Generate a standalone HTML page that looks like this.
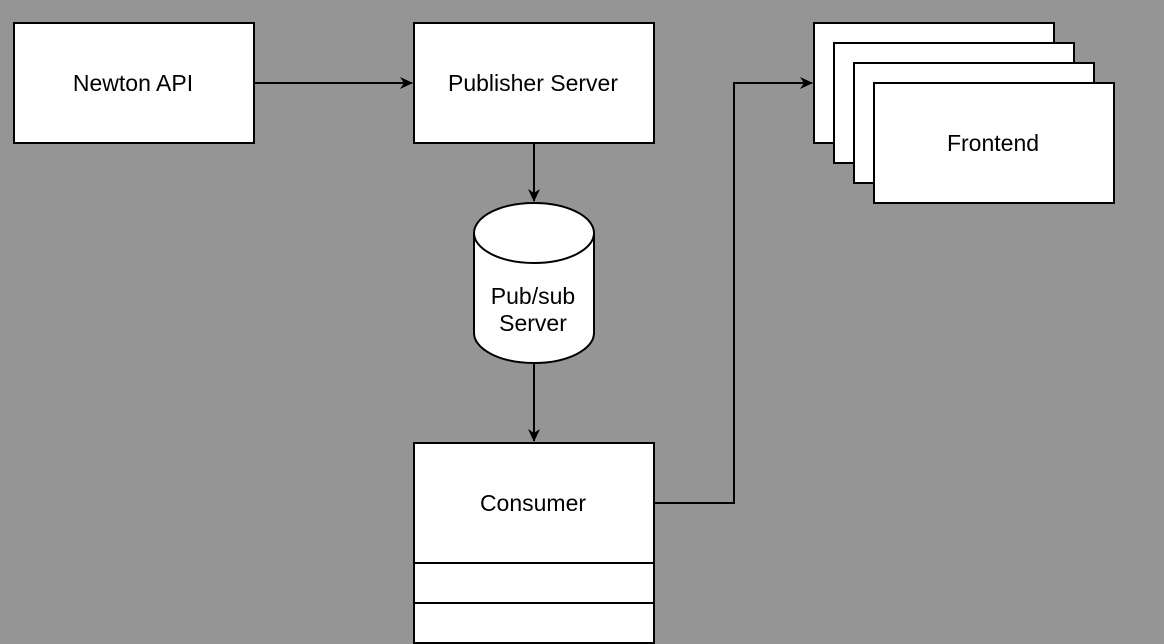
<!DOCTYPE html>
<html><head><style>
html,body{margin:0;padding:0;background:#959595;}
svg{display:block;}
text{font-family:"Liberation Sans",Arial,sans-serif;font-size:23px;fill:#000;}
</style></head><body>
<svg width="1164" height="644" viewBox="0 0 1164 644">
<rect width="1164" height="644" fill="#959595"/>
<defs>
<marker id="a" markerWidth="14" markerHeight="14" refX="12" refY="7" orient="auto" markerUnits="userSpaceOnUse">
<path d="M0,1 L13,7 L0,13 L4,7 Z" fill="#000"/>
</marker>
</defs>
<g stroke="#000" stroke-width="2" fill="#fff">
<rect x="14" y="23" width="240" height="120"/>
<rect x="414" y="23" width="240" height="120"/>
<rect x="814" y="23" width="240" height="120"/>
<rect x="834" y="43" width="240" height="120"/>
<rect x="854" y="63" width="240" height="120"/>
<rect x="874" y="83" width="240" height="120"/>
<rect x="414" y="443" width="240" height="120"/>
<rect x="414" y="563" width="240" height="40"/>
<rect x="414" y="603" width="240" height="40"/>
<path d="M474,233 A60,30 0 0 1 594,233 L594,333 A60,30 0 0 1 474,333 Z"/>
<path d="M474,233 A60,30 0 0 0 594,233" fill="none"/>
</g>
<g stroke="#000" stroke-width="2" fill="none">
<path d="M254,83 L412,83" marker-end="url(#a)"/>
<path d="M534,143 L534,201" marker-end="url(#a)"/>
<path d="M534,363 L534,441" marker-end="url(#a)"/>
<path d="M654,503 L734,503 L734,83 L812,83" marker-end="url(#a)"/>
</g>
<g text-anchor="middle">
<text x="133" y="91">Newton API</text>
<text x="533" y="91">Publisher Server</text>
<text x="993" y="151">Frontend</text>
<text x="533" y="511">Consumer</text>
<text x="533" y="304">Pub/sub</text>
<text x="533" y="331">Server</text>
</g>
</svg>
</body></html>
